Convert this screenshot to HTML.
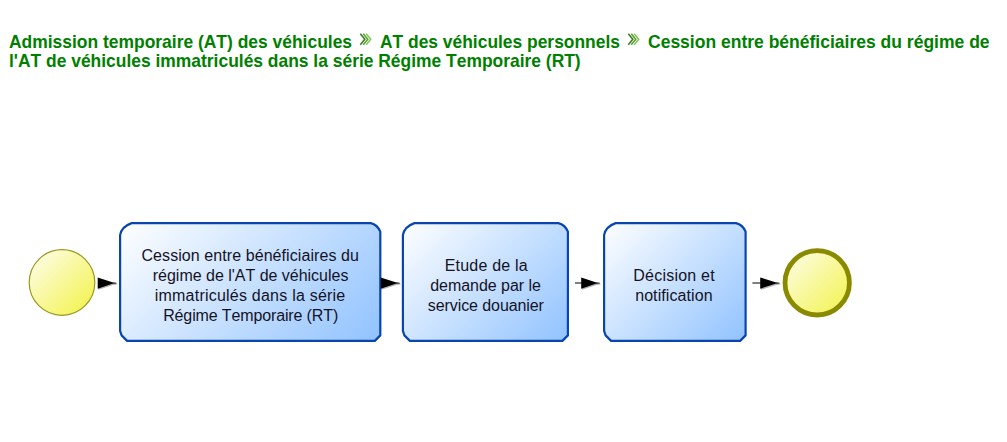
<!DOCTYPE html>
<html lang="fr">
<head>
<meta charset="utf-8">
<title>Cession entre bénéficiaires du régime de l'AT</title>
<style>
html,body{margin:0;padding:0;background:#fff;}
body{width:1007px;height:442px;position:relative;overflow:hidden;font-family:"Liberation Sans",Arial,sans-serif;}
h1{position:absolute;left:0;top:0;margin:0;width:1007px;height:80px;font-size:18.2px;line-height:20px;font-weight:bold;color:#008000;white-space:nowrap;font-kerning:none;}
h1 span{position:absolute;display:block;transform-origin:0 16px;}
.sep{position:absolute;display:block;}
#diag{position:absolute;left:0;top:200px;}
#diag text{font-family:"Liberation Sans",Arial,sans-serif;font-size:16px;fill:#15131f;font-kerning:none;text-anchor:middle;}
</style>
</head>
<body>
<h1><span id="a1" style="left:9.000px;top:32.000px;transform:scale(0.95882,1.0000)">Admission temporaire (AT) des véhicules</span><svg class="sep" style="left:359.000px;top:32.600px" width="14" height="14" viewBox="0 0 14 14" aria-hidden="true"><path d="M1.300 0.700l4.500 5.500-4.500 5.500" fill="none" stroke="#3f7d20" stroke-width="1.600"/><path d="M4.250 0.700l4.500 5.500-4.500 5.500" fill="none" stroke="#5c9f38" stroke-width="1.600"/><path d="M7.200 0.700l4.500 5.500-4.500 5.500" fill="none" stroke="#80cc55" stroke-width="1.600"/></svg> <span id="a2" style="left:379.600px;top:32.000px;transform:scale(0.95714,1.0000)">AT des véhicules personnels</span><svg class="sep" style="left:627.100px;top:32.600px" width="14" height="14" viewBox="0 0 14 14" aria-hidden="true"><path d="M1.300 0.700l4.500 5.500-4.500 5.500" fill="none" stroke="#3f7d20" stroke-width="1.600"/><path d="M4.250 0.700l4.500 5.500-4.500 5.500" fill="none" stroke="#5c9f38" stroke-width="1.600"/><path d="M7.200 0.700l4.500 5.500-4.500 5.500" fill="none" stroke="#80cc55" stroke-width="1.600"/></svg> <span id="a3" style="left:648.000px;top:32.000px;transform:scale(0.96277,1.0000)">Cession entre bénéficiaires du régime de</span> <span id="a4" style="left:9.000px;top:51.000px;transform:scale(0.95815,1.0000)">l'AT de véhicules immatriculés dans la série Régime Temporaire (RT)</span></h1>
<svg id="diag" width="1007" height="242" viewBox="0 200 1007 242">
<defs>
<linearGradient id="gb1" gradientUnits="userSpaceOnUse" x1="119.000" y1="222.000" x2="310.200" y2="413.200"><stop offset="0" stop-color="#ffffff"/><stop offset="1" stop-color="#90c2ff"/></linearGradient>
<linearGradient id="gb2" gradientUnits="userSpaceOnUse" x1="401.800" y1="222.000" x2="545.400" y2="365.600"><stop offset="0" stop-color="#ffffff"/><stop offset="1" stop-color="#90c2ff"/></linearGradient>
<linearGradient id="gb3" gradientUnits="userSpaceOnUse" x1="603.000" y1="222.000" x2="734.850" y2="353.850"><stop offset="0" stop-color="#ffffff"/><stop offset="1" stop-color="#90c2ff"/></linearGradient>
<linearGradient id="gy1" gradientUnits="userSpaceOnUse" x1="29.000" y1="249.500" x2="95.000" y2="315.500"><stop offset="0" stop-color="#fefef3"/><stop offset="1" stop-color="#f2f242"/></linearGradient>
<linearGradient id="gy2" gradientUnits="userSpaceOnUse" x1="782.600" y1="248.200" x2="851.800" y2="317.400"><stop offset="0" stop-color="#fefef3"/><stop offset="1" stop-color="#f2f242"/></linearGradient>
</defs>
<circle cx="62" cy="282.500" r="32.800" fill="url(#gy1)" stroke="#9a9820" stroke-width="1.200"/>
<path d="M131.600 223.100H370.800Q377.300 224.600 380.300 231.600V335.400L374.800 340.900H127.100L121.600 335.400L120.100 330.900V235.100Q121.600 226.600 131.600 223.100Z" fill="url(#gb1)" stroke="#0a44ae" stroke-width="2.200" stroke-linejoin="round"/>
<path d="M414.400 223.100H558.400Q564.900 224.600 567.900 231.600V335.400L562.400 340.900H409.900L404.400 335.400L402.900 330.900V235.100Q404.400 226.600 414.400 223.100Z" fill="url(#gb2)" stroke="#0a44ae" stroke-width="2.200" stroke-linejoin="round"/>
<path d="M615.600 223.100H736.100Q742.600 224.600 745.600 231.600V335.400L740.100 340.900H611.100L605.600 335.400L604.100 330.900V235.100Q605.600 226.600 615.600 223.100Z" fill="url(#gb3)" stroke="#0a44ae" stroke-width="2.200" stroke-linejoin="round"/>
<circle cx="817.200" cy="282.800" r="32.200" fill="url(#gy2)" stroke="#8a8a00" stroke-width="4.800"/>
<g id="arrows">
<g fill="#000" opacity="0.300" transform="translate(0.800 1.100)">
<path d="M97.700 277.400L112.300 282.300L116.500 282.650L116.500 283.450L112.300 283.800L97.700 288.700Z"/>
<path d="M380.700 277.400L395.600 282.300L399.800 282.650L399.800 283.450L395.600 283.800L380.700 288.700Z"/>
<path d="M581.200 277.400L595.600 282.300L599.800 282.650L599.800 283.450L595.600 283.800L581.200 288.700Z"/>
<path d="M760.200 277.400L775.400 282.300L779.600 282.650L779.600 283.450L775.400 283.800L760.200 288.700Z"/>
</g>
<path d="M575 283H583M752.400 283H762" stroke="#000" stroke-width="1.050" fill="none"/>
<path d="M97.700 277.400L112.300 282.300L116.500 282.650L116.500 283.450L112.300 283.800L97.700 288.700Z" fill="#000"/>
<path d="M380.700 277.400L395.600 282.300L399.800 282.650L399.800 283.450L395.600 283.800L380.700 288.700Z" fill="#000"/>
<path d="M581.200 277.400L595.600 282.300L599.800 282.650L599.800 283.450L595.600 283.800L581.200 288.700Z" fill="#000"/>
<path d="M760.200 277.400L775.400 282.300L779.600 282.650L779.600 283.450L775.400 283.800L760.200 288.700Z" fill="#000"/>
</g>
<text x="250.238" y="261.000" style="letter-spacing:0.076px">Cession entre bénéficiaires du</text>
<text x="250.593" y="281.000" style="letter-spacing:-0.015px">régime de l'AT de véhicules</text>
<text x="250.112" y="301.000" style="letter-spacing:0.224px">immatriculés dans la série</text>
<text x="250.633" y="320.500" style="letter-spacing:-0.133px">Régime Temporaire (RT)</text>
<text x="486.300" y="270.700" style="letter-spacing:0.2px">Etude de la</text>
<text x="485.583" y="290.600" style="letter-spacing:-0.035px">demande par le</text>
<text x="485.857" y="311.400" style="letter-spacing:-0.085px">service douanier</text>
<text x="674.107" y="280.600" style="letter-spacing:0.215px">Décision et</text>
<text x="673.945" y="300.600" style="letter-spacing:0.09px">notification</text>
</svg>
</body>
</html>
